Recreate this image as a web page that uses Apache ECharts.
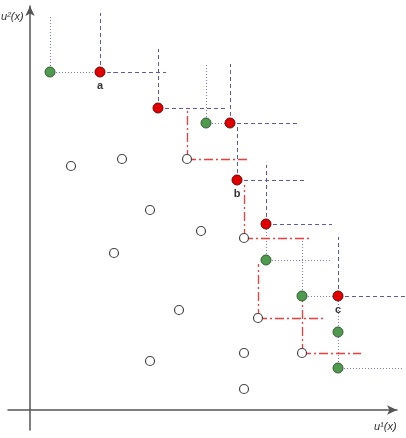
<!DOCTYPE html>
<html>
<head>
<meta charset="utf-8">
<script src="https://cdn.jsdelivr.net/npm/echarts@6/dist/echarts.min.js"></script>
<style>
  html, body { margin: 0; padding: 0; background: #fff; }
  #chart { width: 406px; height: 438px; }
</style>
</head>
<body>
<div id="chart"></div>
<script>
  // objective space points: [u1, u2]
  const redPoints = [[70, 338], [128, 302], [200, 287], [207, 230], [236, 186], [308, 114]];
  const redLabels = ['a', '', '', 'b', '', 'c'];
  // how far each dashed box edge reaches: up to u2, right to u1
  const redTop = [397, 361, 346, 287, 245, 173];
  const redRight = [136, 195, 267, 274, 302, 375];

  const greenPoints = [[20, 338], [176, 287], [236, 150], [272, 114], [308, 78], [308, 42]];
  const greenTop = [395, 345, 186, 173, 114, 78];
  const greenRight = [85, 200, 301, 308, 308, 374];

  const openBoxPoints = [[157, 251], [214, 172], [228, 92], [272, 57]];
  const openBoxTop = [302, 225, 146, 110];
  const openBoxRight = [220, 280, 293, 331];

  const openPoints = [[41, 244], [92, 251], [120, 200], [171, 179], [84, 157],
    [149, 100], [120, 49], [214, 57], [214, 21]];

  function boxSegments(points, tops, rights) {
    const segs = [];
    points.forEach((p, i) => {
      if (tops[i] > p[1]) segs.push({ coords: [p, [p[0], tops[i]]] });
      if (rights[i] > p[0]) segs.push({ coords: [p, [rights[i], p[1]]] });
    });
    return segs;
  }

  const chart = echarts.init(document.getElementById('chart'));

  chart.setOption({
    animation: false,
    grid: { left: 8, right: 9, top: 6, bottom: 8 },
    xAxis: {
      type: 'value',
      min: -22,
      max: 367,
      splitLine: { show: false },
      axisTick: { show: false },
      axisLabel: { show: false },
      axisLine: {
        onZero: true,
        symbol: ['none', 'arrow'],
        symbolSize: [7, 10],
        lineStyle: { color: '#555', width: 1.5 }
      }
    },
    yAxis: {
      type: 'value',
      min: -20,
      max: 404,
      splitLine: { show: false },
      axisTick: { show: false },
      axisLabel: { show: false },
      axisLine: {
        onZero: true,
        symbol: ['none', 'arrow'],
        symbolSize: [7, 10],
        lineStyle: { color: '#555', width: 1.5 }
      }
    },
    graphic: [
      {
        type: 'text', left: 1, top: 11,
        style: { text: 'u²(x)', font: 'italic 11px "Liberation Sans", Arial, sans-serif', fill: '#333' }
      },
      {
        type: 'text', left: 374, top: 421,
        style: { text: 'u¹(x)', font: 'italic 11px "Liberation Sans", Arial, sans-serif', fill: '#333' }
      }
    ],
    series: [
      {
        type: 'lines',
        coordinateSystem: 'cartesian2d',
        polyline: false,
        clip: false,
        z: 1,
        lineStyle: { color: '#5a5aaa', width: 1, type: [4, 3], opacity: 1 },
        data: boxSegments(redPoints, redTop, redRight)
      },
      {
        type: 'lines',
        coordinateSystem: 'cartesian2d',
        polyline: false,
        clip: false,
        z: 1,
        lineStyle: { color: '#7a7ad2', width: 1, type: [1, 2], opacity: 1 },
        data: boxSegments(greenPoints, greenTop, greenRight)
      },
      {
        type: 'lines',
        coordinateSystem: 'cartesian2d',
        polyline: false,
        clip: false,
        z: 1,
        lineStyle: { color: '#f03c3c', width: 1.3, type: [9, 3, 2, 3], opacity: 1 },
        data: boxSegments(openBoxPoints, openBoxTop, openBoxRight)
      },
      {
        type: 'scatter',
        z: 3,
        symbolSize: 9,
        itemStyle: { color: '#fff', borderColor: '#444', borderWidth: 1.2, opacity: 1 },
        data: openPoints.concat(openBoxPoints)
      },
      {
        type: 'scatter',
        z: 3,
        symbolSize: 10,
        itemStyle: { color: '#4f9a4f', borderColor: '#2f5f2f', borderWidth: 1, opacity: 1 },
        data: greenPoints
      },
      {
        type: 'scatter',
        z: 4,
        symbolSize: 10,
        itemStyle: { color: '#e00000', borderColor: '#7a0000', borderWidth: 1, opacity: 1 },
        label: {
          show: true,
          position: 'bottom',
          distance: 3,
          formatter: p => redLabels[p.dataIndex],
          fontFamily: '"Liberation Sans", Arial, sans-serif',
          fontWeight: 'bold',
          fontSize: 11,
          color: '#333'
        },
        data: redPoints
      }
    ]
  });
</script>
</body>
</html>
